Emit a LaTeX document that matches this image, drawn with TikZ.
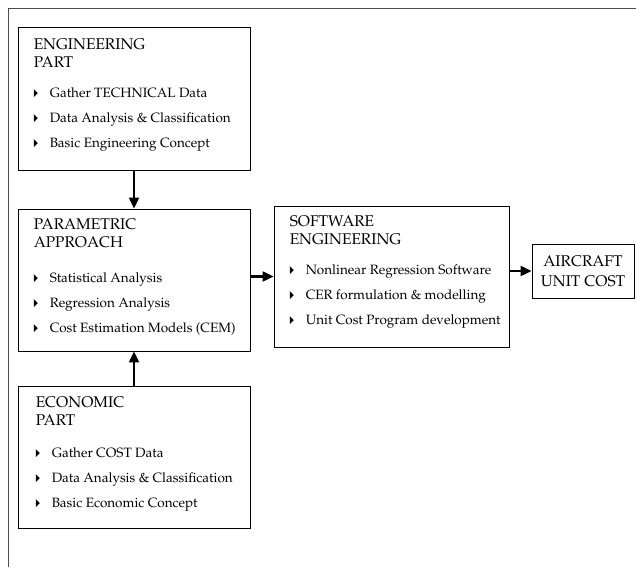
\documentclass[tikz,border=0pt]{standalone}
\usepackage[T1]{fontenc}
\usepackage{mathpazo}
\usetikzlibrary{arrows.meta,positioning}

\newcommand{\itm}{\tikz[baseline]\fill (0,0.3pt) -- (0,8.3pt) -- (4pt,4.3pt) -- cycle;\hspace{12pt}}
\newcommand{\ttl}{\fontsize{15.5}{18}\selectfont}

\begin{document}
\begin{tikzpicture}[x=1pt,y=1pt,
box/.style={draw,line width=0.9pt,inner sep=0pt},
txt/.style={anchor=north west,align=left,inner sep=0pt,font=\fontsize{13.5}{25}\selectfont},
arr/.style={line width=2.2pt,-{Triangle[length=11pt,width=10pt]}}]
\useasboundingbox (0,0) rectangle (636,567);
% outer frame
\draw[line width=1.2pt,black!70] (8.5,0) -- (8.5,558.5) -- (636,558.5);

% boxes
\node[box,minimum width=232,minimum height=143] (eng) at (134,468.5) {};
\node[box,minimum width=232,minimum height=142] (param) at (134,287) {};
\node[box,minimum width=232,minimum height=142] (econ) at (134,110) {};
\node[box,minimum width=235,minimum height=141] (soft) at (391.5,290.5) {};
\node[box,minimum width=102,minimum height=54,align=center,
  font=\fontsize{15.5}{20}\selectfont] (air) at (583,296) {AIRCRAFT\\UNIT COST};

% box texts
\node[txt] (engtxt) at ([shift={(16,-12)}]eng.north west)
  {{\ttl ENGINEERING}\\[-7pt]{\ttl PART}\\[5pt]
   \itm Gather TECHNICAL Data\\
   \itm Data Analysis \& Classification\\
   \itm Basic Engineering Concept};
\node[txt] (paramtxt) at ([shift={(16,-10)}]param.north west)
  {{\ttl PARAMETRIC}\\[-7pt]{\ttl APPROACH}\\[10pt]
   \itm Statistical Analysis\\
   \itm Regression Analysis\\
   \itm Cost Estimation Models (CEM)};
\node[txt] (econtxt) at ([shift={(18,-11)}]econ.north west)
  {{\ttl ECONOMIC}\\[-7pt]{\ttl PART}\\[7pt]
   \itm Gather COST Data\\
   \itm Data Analysis \& Classification\\
   \itm Basic Economic Concept};
\node[txt] (softtxt) at ([shift={(16,-10)}]soft.north west)
  {{\ttl SOFTWARE}\\[-7pt]{\ttl ENGINEERING}\\[5pt]
   \itm Nonlinear Regression Software\\
   \itm CER formulation \& modelling\\
   \itm Unit Cost Program development};

% arrows
\draw[arr] (eng) -- (param);
\draw[arr] (econ) -- (param);
\draw[arr] (param.east |- soft.west) -- (soft.west);
\draw[arr] (soft.east |- air.west) -- (air.west);
\end{tikzpicture}
\end{document}
